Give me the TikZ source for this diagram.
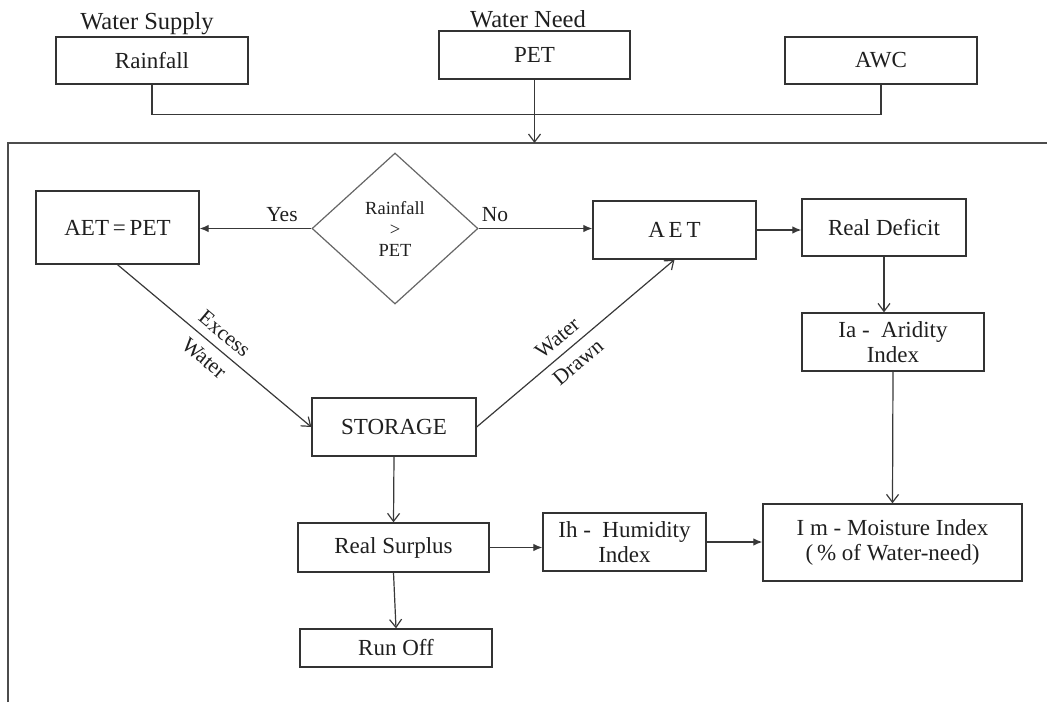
\documentclass[tikz,border=0pt]{standalone}
\usepackage{fontspec}
\setmainfont{Liberation Serif}
\usetikzlibrary{shapes.geometric,arrows.meta}
\newcommand\boxfs{\fontsize{23}{25.5}\selectfont}
\newcommand\headfs{\fontsize{24.5}{28}\selectfont}
\newcommand\diafs{\fontsize{18.5}{21}\selectfont}
\newcommand\labfs{\fontsize{21.5}{24}\selectfont}
\newcommand\slopefs{\fontsize{21.5}{32}\selectfont}
\begin{document}
\begin{tikzpicture}[x=1pt,y=-1pt,
  box/.style={draw=black!80, line width=1.3pt, inner sep=0pt, align=center, font=\boxfs, text=black!88},
  conn/.style={draw=black!78, line width=1.2pt},
  fa/.style={conn, -{Latex[length=9pt,width=7.5pt]}},
  oa/.style={conn, -{Straight Barb[length=8pt,width=12pt]}},
  headlbl/.style={font=\headfs, text=black!88, inner sep=0pt, anchor=base},
  edgelbl/.style={font=\labfs, text=black!88, inner sep=0pt, anchor=base},
  slopelbl/.style={font=\slopefs, text=black!88, inner sep=0pt, align=center, sloped}]
\useasboundingbox (0,0) rectangle (1047,702);

% frame
\coordinate (ftl) at (8,143);
\draw[draw=black!70, line width=1.2pt] (8,702) -- (ftl) -- (1047,143);

% top row
\node[headlbl] (ws) at (147,29) {Water Supply};
\node[headlbl] (wn) at (528,27) {Water Need};
\node[box, minimum width=192pt, minimum height=47pt] (rain) at (152,60.5) {Rainfall};
\node[box, minimum width=191pt, minimum height=48pt] (pet) at (534.5,55) {PET};
\node[box, minimum width=192pt, minimum height=47pt] (awc) at (881,60.5) {AWC};

% main nodes
\node[box, minimum width=163pt, minimum height=73pt] (aetpet) at (117.5,227.5) {AET\,=\,PET};
\node[diamond, draw=black!60, line width=1.2pt, minimum width=166pt, minimum height=151pt,
      inner sep=0pt, align=center, font=\diafs, text=black!88] (dia) at (395,228.5) {Rainfall\\>\\PET};
\node[box, minimum width=163pt, minimum height=58pt] (aet) at (674.5,230) {A\,E\,T};
\node[box, minimum width=164pt, minimum height=57pt] (rd) at (884,227.5) {Real Deficit};
\node[box, minimum width=182pt, minimum height=58pt] (ia) at (893,342) {Ia - ~Aridity\\Index};
\node[box, minimum width=164pt, minimum height=58pt] (storage) at (394,427) {STORAGE};
\node[box, minimum width=191pt, minimum height=49pt] (rs) at (393.5,547.5) {Real Surplus};
\node[box, minimum width=192pt, minimum height=38pt] (runoff) at (396,648) {Run Off};
\node[box, minimum width=163pt, minimum height=58pt] (ih) at (624.5,542) {Ih - ~Humidity\\Index};
\node[box, minimum width=259pt, minimum height=77pt] (im) at (892.5,542.5) {I m - Moisture Index\\(\,\% of Water-need)};

\node[edgelbl] (yes) at (282,221) {Yes};
\node[edgelbl] (no) at (495,221) {No};

% connectors
\draw[conn] (rain.south) -- ++(0,30) -| (awc.south);
\draw[oa] (pet.south) -- (pet.south |- ftl);
\draw[fa] (dia.west) -- (dia.west -| aetpet.east);
\draw[fa] (dia.east) -- (dia.east -| aet.west);
\draw[fa] (aet.east) -- (aet.east -| rd.west);
\draw[oa] (rd.south) -- (rd.south |- ia.north);
\draw[oa] (ia.south) -- (im.north);
\draw[oa] (aetpet.south) -- node[slopelbl, midway] {Excess\\Water} (storage.west);
\draw[oa] (storage.east) -- node[slopelbl, pos=0.46] {Water\\Drawn} (aet.south);
\draw[oa] (storage.south) -- (rs.north);
\draw[oa] (rs.south) -- (runoff.north);
\draw[fa] (rs.east) -- (rs.east -| ih.west);
\draw[fa] (ih.east) -- (ih.east -| im.west);
\end{tikzpicture}
\end{document}
